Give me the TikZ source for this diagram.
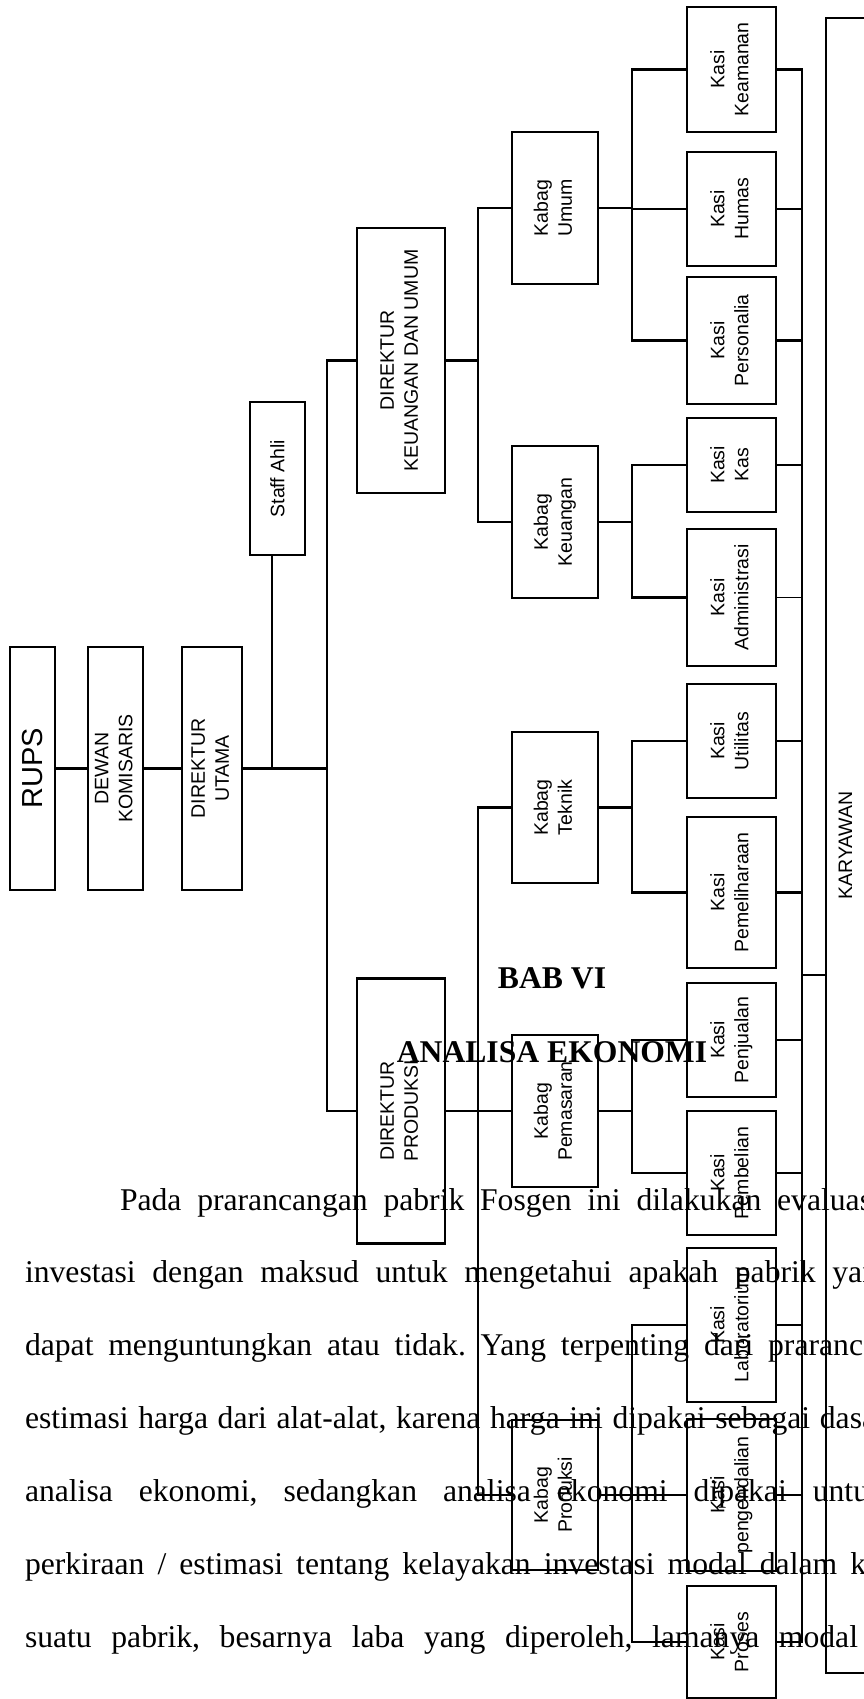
\documentclass[tikz,border=0pt]{standalone}
\usepackage{fontspec}
\setmainfont{Liberation Serif}
\newfontfamily\arialf{Liberation Sans}
\usepackage{graphicx}
\newcommand{\rt}[1]{\rotatebox{90}{\begin{tabular}{@{}c@{}}#1\end{tabular}}}
\frenchspacing
\begin{document}
\begin{tikzpicture}[x=1pt,y=-1pt,
  box/.style={draw, line width=2.6pt, inner sep=0pt, outer sep=0pt, font=\arialf\fontsize{19.5}{24}\selectfont},
  ln/.style={line width=2.4pt},
  lnthin/.style={line width=1.8pt},
  body/.style={anchor=base west, inner sep=0pt, outer sep=0pt, font=\fontsize{31.65}{36}\selectfont},
  head/.style={anchor=base, inner sep=0pt, outer sep=0pt, font=\bfseries\fontsize{31.65}{36}\selectfont}]
\useasboundingbox (0,0) rectangle (864,1699);

% ---------- page text ----------
\node[head] (bab) at (552,988) {BAB VI};
\node[head] (judul) at (552,1062) {ANALISA EKONOMI};
\node[body] (t1) at (120,1210) {\makebox[752pt][s]{Pada prarancangan pabrik Fosgen ini dilakukan evaluas}};
\node[body] (t2) at (25,1282) {\makebox[853pt][s]{investasi dengan maksud untuk mengetahui apakah pabrik yan}};
\node[body] (t3) at (25,1355) {\makebox[852pt][s]{dapat menguntungkan atau tidak. Yang terpenting dari praranca}};
\node[body] (t4) at (25,1428) {\makebox[851pt][s]{estimasi harga dari alat-alat, karena harga ini dipakai sebagai dasa}};
\node[body] (t5) at (25,1501) {\makebox[844pt][s]{analisa ekonomi, sedangkan analisa ekonomi dipakai untu}};
\node[body] (t6) at (25,1574) {\makebox[841pt][s]{perkiraan / estimasi tentang kelayakan investasi modal dalam k}};
\node[body] (t7) at (25,1647) {\makebox[833pt][s]{suatu pabrik, besarnya laba yang diperoleh, lamanya modal}};

% ---------- chart boxes ----------
\node[box, minimum width=45, minimum height=243, font=\arialf\fontsize{29}{34}\selectfont] (rups) at (32.5,768.5) {\rotatebox{90}{RUPS}};
\node[box, minimum width=55, minimum height=243] (dk) at (115.5,768.5) {\rt{DEWAN\\KOMISARIS}};
\node[box, minimum width=60, minimum height=243] (du) at (212,768.5) {\rt{DIREKTUR\\UTAMA}};
\node[box, minimum width=55, minimum height=153] (staff) at (277.5,478.5) {\rotatebox{90}{Staff Ahli}};
\node[box, minimum width=88, minimum height=265] (dku) at (401,360.5) {\rt{DIREKTUR\\KEUANGAN DAN UMUM}};
\node[box, minimum width=88, minimum height=265] (dp) at (401,1111) {\rt{DIREKTUR\\PRODUKSI}};

\node[box, minimum width=86, minimum height=152] (kbU) at (555,208) {\rt{Kabag\\Umum}};
\node[box, minimum width=86, minimum height=152] (kbK) at (555,522) {\rt{Kabag\\Keuangan}};
\node[box, minimum width=86, minimum height=151] (kbT) at (555,807.5) {\rt{Kabag\\Teknik}};
\node[box, minimum width=86, minimum height=152] (kbP) at (555,1111) {\rt{Kabag\\Pemasaran}};
\node[box, minimum width=86, minimum height=150] (kbPr) at (555,1495) {\rt{Kabag\\Produksi}};

\node[box, minimum width=89, minimum height=125] (ksKeam) at (731.5,69.5) {\rt{Kasi\\Keamanan}};
\node[box, minimum width=89, minimum height=114] (ksHum) at (731.5,209) {\rt{Kasi\\Humas}};
\node[box, minimum width=89, minimum height=127] (ksPers) at (731.5,340.5) {\rt{Kasi\\Personalia}};
\node[box, minimum width=89, minimum height=94] (ksKas) at (731.5,465) {\rt{Kasi\\Kas}};
\node[box, minimum width=89, minimum height=137] (ksAdm) at (731.5,597.5) {\rt{Kasi\\Administrasi}};
\node[box, minimum width=89, minimum height=114] (ksUtil) at (731.5,741) {\rt{Kasi\\Utilitas}};
\node[box, minimum width=89, minimum height=151] (ksPem) at (731.5,892.5) {\rt{Kasi\\Pemeliharaan}};
\node[box, minimum width=89, minimum height=114] (ksJual) at (731.5,1040) {\rt{Kasi\\Penjualan}};
\node[box, minimum width=89, minimum height=124] (ksBeli) at (731.5,1173) {\rt{Kasi\\Pembelian}};
\node[box, minimum width=89, minimum height=154] (ksLab) at (731.5,1325) {\rt{Kasi\\Laboratorium}};
\node[box, minimum width=89, minimum height=152] (ksPeng) at (731.5,1495) {\rt{Kasi\\pengendalian}};
\node[box, minimum width=89, minimum height=112] (ksPros) at (731.5,1642) {\rt{Kasi\\Proses}};

\node[box, minimum width=54, minimum height=1655] (kary) at (853,845.5) {};
\node[inner sep=0pt, font=\arialf\fontsize{19.5}{24}\selectfont] (karyt) at (845.5,845.5) {\rotatebox{90}{KARYAWAN}};

% ---------- junction coordinates ----------
\coordinate (tr1) at (327,360.5);
\coordinate (tr2) at (327,1111);
\coordinate (sj) at (272,768.5);
\coordinate (a1) at (478,208);
\coordinate (a2) at (478,522);
\coordinate (b1) at (478,807.5);
\coordinate (b2) at (478,1495);
\coordinate (c1) at (632,69.5);
\coordinate (c2) at (632,340.5);
\coordinate (d1) at (632,465);
\coordinate (d2) at (632,597.5);
\coordinate (e1) at (632,741);
\coordinate (e2) at (632,892.5);
\coordinate (f1) at (632,1040);
\coordinate (f2) at (632,1173);
\coordinate (g1) at (632,1325);
\coordinate (g2) at (632,1642);
\coordinate (h1) at (802,69.5);
\coordinate (h2) at (802,1642);
\coordinate (hk) at (802,975);

% ---------- connectors ----------
\draw[ln] (rups.east) -- (dk.west);
\draw[ln] (dk.east) -- (du.west);
\draw[ln] (du.east) -- (du.east -| tr1);
\draw[ln] (sj) -- (sj |- staff.south);
\draw[ln] (dku.west) -- (tr1) -- (tr2) -- (dp.west);

\draw[ln] (dku.east) -- (dku.east -| a1);
\draw[ln] (kbU.west) -- (a1) -- (a2) -- (kbK.west);
\draw[ln] (dp.east) -- (kbP.west);
\draw[ln] (kbT.west) -- (b1) -- (b2) -- (kbPr.west);

\draw[ln] (kbU.east) -- (kbU.east -| c1);
\draw[ln] (ksKeam.west) -- (c1) -- (c2) -- (ksPers.west);
\draw[lnthin] (ksHum.west -| c1) -- (ksHum.west);
\draw[ln] (kbK.east) -- (kbK.east -| d1);
\draw[ln] (ksKas.west) -- (d1) -- (d2) -- (ksAdm.west);
\draw[ln] (kbT.east) -- (kbT.east -| e1);
\draw[ln] (ksUtil.west) -- (e1) -- (e2) -- (ksPem.west);
\draw[ln] (kbP.east) -- (kbP.east -| f1);
\draw[ln] (ksJual.west) -- (f1) -- (f2) -- (ksBeli.west);
\draw[ln] (kbPr.east) -- (ksPeng.west);
\draw[ln] (ksLab.west) -- (g1) -- (g2) -- (ksPros.west);

\draw[ln] (ksKeam.east) -- (h1) -- (h2) -- (ksPros.east);
\draw[lnthin] (ksHum.east) -- (ksHum.east -| h1);
\draw[ln] (ksPers.east) -- (ksPers.east -| h1);
\draw[lnthin] (ksKas.east) -- (ksKas.east -| h1);
\draw[lnthin] (ksAdm.east) -- (ksAdm.east -| h1);
\draw[ln] (ksUtil.east) -- (ksUtil.east -| h1);
\draw[ln] (ksPem.east) -- (ksPem.east -| h1);
\draw[ln] (ksJual.east) -- (ksJual.east -| h1);
\draw[ln] (ksBeli.east) -- (ksBeli.east -| h1);
\draw[ln] (ksLab.east) -- (ksLab.east -| h1);
\draw[ln] (ksPeng.east) -- (ksPeng.east -| h1);
\draw[ln] (hk) -- (hk -| kary.west);
\end{tikzpicture}
\end{document}
